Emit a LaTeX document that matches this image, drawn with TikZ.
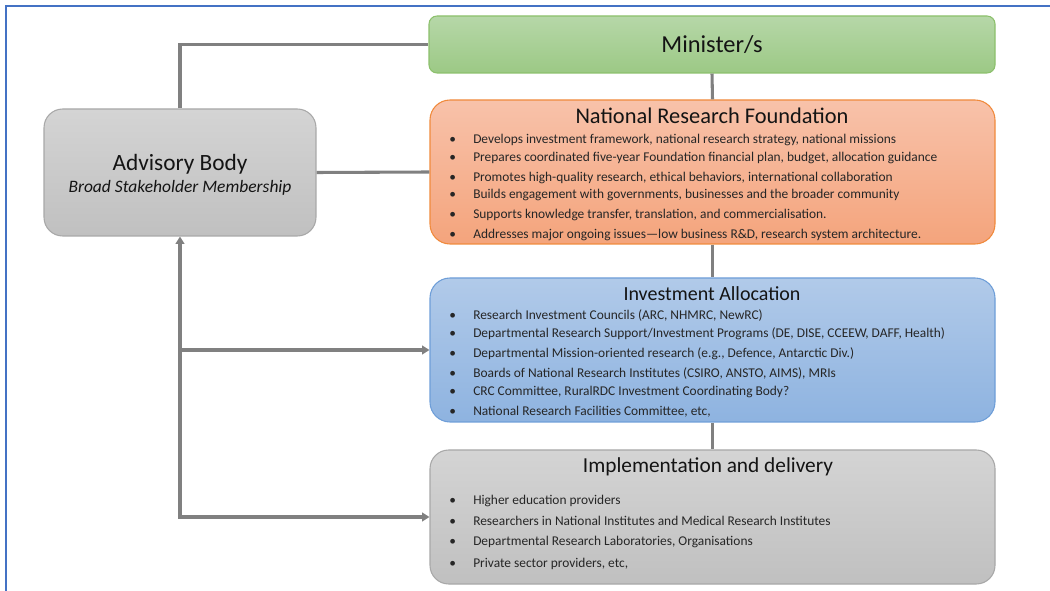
\documentclass[tikz,border=0pt]{standalone}
\usepackage{fontspec}
\setmainfont{Carlito}
\usetikzlibrary{arrows.meta}

\definecolor{frameblue}{HTML}{4472C4}
\definecolor{linkgray}{HTML}{808080}
\definecolor{txt}{HTML}{262626}
\definecolor{greentop}{HTML}{B6D7A8}
\definecolor{greenbot}{HTML}{9CC985}
\definecolor{greenline}{HTML}{8CC06C}
\definecolor{orangetop}{HTML}{F8C2AA}
\definecolor{orangebot}{HTML}{F4A47C}
\definecolor{orangeline}{HTML}{F08A3C}
\definecolor{bluetop}{HTML}{B1CAE9}
\definecolor{bluebot}{HTML}{8EB3E0}
\definecolor{blueline}{HTML}{6E9ED8}
\definecolor{graytop}{HTML}{D4D4D4}
\definecolor{graybot}{HTML}{C0C0C0}
\definecolor{grayline}{HTML}{A8A8A8}

\newcommand{\bulletmark}{\makebox[18pt][l]{•}}

\tikzset{
  panel/.style={rectangle, inner sep=0pt, line width=0.8pt},
  greenpanel/.style={panel, draw=greenline, top color=greentop, bottom color=greenbot},
  orangepanel/.style={panel, draw=orangeline, top color=orangetop, bottom color=orangebot},
  bluepanel/.style={panel, draw=blueline, top color=bluetop, bottom color=bluebot},
  graypanel/.style={panel, draw=grayline, top color=graytop, bottom color=graybot},
  heading/.style={anchor=base, inner sep=0pt, text=black!92},
  item/.style={anchor=base west, inner sep=0pt, text=txt, font=\fontsize{10.05}{11}\selectfont},
  link/.style={draw=linkgray, line width=2.3pt},
  arrowlink/.style={link, -{Triangle[length=5.5pt,width=6.5pt]}},
}

\begin{document}
\begin{tikzpicture}[x=0.75pt, y=-0.75pt]
\useasboundingbox (0,0) rectangle (1050,591);

% outer frame (top and left edges)
\draw[frameblue, line width=1.6pt] (6,591) -- (6,6) -- (1050,6);

% panels
\node[greenpanel, rounded corners=6pt, minimum width=566*0.75pt, minimum height=57*0.75pt]
  (min) at (712,44.5) {};
\node[orangepanel, rounded corners=15pt, minimum width=565*0.75pt, minimum height=144*0.75pt]
  (nrf) at (712.5,172) {};
\node[bluepanel, rounded corners=15pt, minimum width=565*0.75pt, minimum height=144*0.75pt]
  (inv) at (712.5,350) {};
\node[graypanel, rounded corners=14pt, minimum width=565*0.75pt, minimum height=134*0.75pt]
  (imp) at (712.5,517) {};
\node[graypanel, rounded corners=14pt, minimum width=272*0.75pt, minimum height=127*0.75pt]
  (adv) at (180,172.5) {};

% connectors
\draw[link] (adv.north) |- (min.west);
\draw[link] (adv.east) -- (nrf.west);
\draw[link] (min.south) -- (nrf.north);
\draw[link] (nrf.south) -- (inv.north);
\draw[link] (inv.south) -- (imp.north);
\coordinate (fork) at (adv.south |- imp.west);
\coordinate (branch) at (adv.south |- inv.west);
\draw[arrowlink, {Triangle[length=5.5pt,width=6.5pt]}-{Triangle[length=5.5pt,width=6.5pt]}, line join=miter]
  (adv.south) -- (fork) -- (imp.west);
\draw[arrowlink] (branch) -- (inv.west);

% headings
\node[heading, font=\fontsize{18.3}{20}\selectfont] (mint) at (712,53) {Minister/s};
\node[heading, font=\fontsize{17.5}{20}\selectfont] (advt) at (180,171) {Advisory Body};
\node[heading, font=\fontsize{13.1}{15}\selectfont\itshape] (advs) at (180,193) {Broad Stakeholder Membership};
\node[heading, font=\fontsize{16.8}{18}\selectfont] (nrft) at (712,124) {National Research Foundation};
\node[heading, font=\fontsize{15}{17}\selectfont] (invt) at (712,301) {Investment Allocation};
\node[heading, font=\fontsize{16}{18}\selectfont] (impt) at (708,473) {Implementation and delivery};

% bullet lists
\foreach \y/\t [count=\i] in {
  144/{Develops investment framework, national research strategy, national missions},
  162/{Prepares coordinated five-year Foundation financial plan, budget, allocation guidance},
  182/{Promotes high-quality research, ethical behaviors, international collaboration},
  199/{Builds engagement with governments, businesses and the broader community},
  219/{Supports knowledge transfer, translation, and commercialisation.},
  239/{Addresses major ongoing issues—low business R\&D, research system architecture.}}
  \node[item] (nrf-\i) at (449,\y) {\bulletmark\t};

\foreach \y/\t [count=\i] in {
  320/{Research Investment Councils (ARC, NHMRC, NewRC)},
  338/{Departmental Research Support/Investment Programs (DE, DISE, CCEEW, DAFF, Health)},
  358/{Departmental Mission-oriented research (e.g., Defence, Antarctic Div.)},
  378/{Boards of National Research Institutes (CSIRO, ANSTO, AIMS), MRIs},
  396/{CRC Committee, RuralRDC Investment Coordinating Body?},
  416/{National Research Facilities Committee, etc,}}
  \node[item] (inv-\i) at (449,\y) {\bulletmark\t};

\foreach \y/\t [count=\i] in {
  504/{Higher education providers},
  525/{Researchers in National Institutes and Medical Research Institutes},
  546/{Departmental Research Laboratories, Organisations},
  567/{Private sector providers, etc,}}
  \node[item] (imp-\i) at (449,\y) {\bulletmark\t};
\end{tikzpicture}
\end{document}
